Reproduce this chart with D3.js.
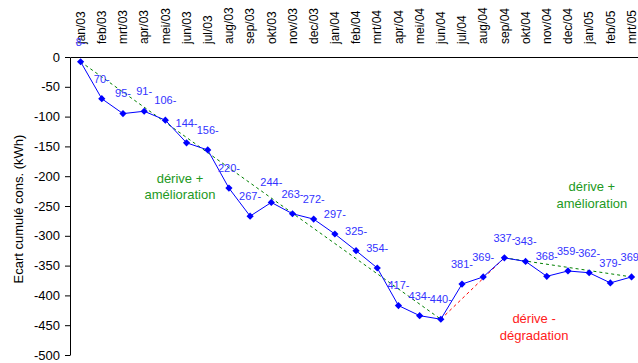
<!DOCTYPE html>
<html>
<head>
<meta charset="utf-8">
<script src="https://cdn.jsdelivr.net/npm/d3@7"></script>
<style>
  html, body { margin: 0; padding: 0; background: #fff; }
  svg { display: block; font-family: "Liberation Sans", Arial, sans-serif; }
</style>
</head>
<body>
<svg id="chart" width="638" height="363"></svg>
<script>
// Maanden (categorieën)
const months = ["jan/03","feb/03","mrt/03","apr/03","mei/03","jun/03","jul/03","aug/03","sep/03","okt/03","nov/03","dec/03",
                "jan/04","feb/04","mrt/04","apr/04","mei/04","jun/04","jul/04","aug/04","sep/04","okt/04","nov/04","dec/04",
                "jan/05","feb/05","mrt/05"];
// Ecart cumulé (kWh)
const cumul = [-8,-70,-95,-91,-106,-144,-156,-220,-267,-244,-263,-272,
               -297,-325,-354,-417,-434,-440,-381,-369,-337,-343,-368,-359,
               -362,-379,-369];
// Y-as tickwaarden
const yTicks = [0,-50,-100,-150,-200,-250,-300,-350,-400,-450,-500];
// Trendsegmenten (begin- en eindmaand)
const trendFrom = ["jan/03","jun/04","sep/04"];
const trendTo   = ["jun/04","sep/04","mrt/05"];
const trendKind = ["amelioration","degradation","amelioration"];
// Annotaties: tekstregels, positie als (fractionele) maandindex en waarde van de eerste regel
const noteLines = [["dérive +","amélioration"],["dérive -","dégradation"],["dérive +","amélioration"]];
const noteIndex = [4.69, 21.4, 24.13];
const noteValue = [-203, -439.5, -217.5];
const noteKind  = ["amelioration","degradation","amelioration"];

const svg = d3.select("#chart");
const plotLeft = 70, plotTop = 57, plotBottom = 355, step = 21.19;

const x = d3.scaleBand().domain(months).range([plotLeft, plotLeft + months.length * step]).padding(0);
const cx = m => x(m) + x.bandwidth() / 2;
const xAt = i => cx(months[0]) + i * x.step();
const y = d3.scaleLinear().domain([-500, 0]).range([plotBottom, plotTop]);

const lineColor = { amelioration: "#008000", degradation: "#ff0000" };
const textColor = { amelioration: "#229922", degradation: "#ff2020" };

// Y-as
const yAxis = svg.append("g")
  .attr("transform", `translate(${plotLeft},0)`)
  .call(d3.axisLeft(y).tickValues(yTicks).tickSize(5).tickPadding(5).tickSizeOuter(0).tickFormat(d => String(d)));
yAxis.selectAll("text").attr("font-size", 13).attr("fill", "#000").attr("font-family", "Liberation Sans, Arial, sans-serif");
yAxis.selectAll("line,path").attr("stroke", "#000");

// Categorie-as bovenaan (op 0)
const xAxis = svg.append("g")
  .attr("transform", `translate(0,${y(0)})`)
  .call(d3.axisTop(x).tickSize(0).tickSizeOuter(0).tickPadding(0));
xAxis.select("path").attr("stroke", "#000");
xAxis.selectAll("text")
  .attr("font-size", 12).attr("fill", "#000").attr("font-family", "Liberation Sans, Arial, sans-serif")
  .attr("text-anchor", "start")
  .attr("transform", "rotate(-90)")
  .attr("x", 13).attr("y", 0).attr("dy", "0.35em");

// As-titel
svg.append("text")
  .attr("transform", `translate(18,${(plotTop + plotBottom) / 2 + 3}) rotate(-90)`)
  .attr("text-anchor", "middle").attr("dy", "0.35em")
  .attr("font-size", 13).attr("fill", "#000")
  .text("Ecart cumulé cons. (kWh)");

// Trendlijnen
const idx = m => months.indexOf(m);
trendFrom.forEach((f, i) => {
  svg.append("line")
    .attr("x1", cx(f)).attr("y1", y(cumul[idx(f)]))
    .attr("x2", cx(trendTo[i])).attr("y2", y(cumul[idx(trendTo[i])]))
    .attr("stroke", lineColor[trendKind[i]]).attr("stroke-width", 1)
    .attr("stroke-dasharray", "3,3");
});

// Reekslijn
svg.append("path")
  .datum(cumul)
  .attr("fill", "none").attr("stroke", "#0000ff").attr("stroke-width", 1)
  .attr("d", d3.line().x((d, i) => cx(months[i])).y(d => y(d)));

// Markeringen (ruiten)
svg.append("g").selectAll("path")
  .data(cumul).join("path")
  .attr("d", d3.symbol(d3.symbolSquare, 26))
  .attr("transform", (d, i) => `translate(${cx(months[i])},${y(d)}) rotate(45)`)
  .attr("fill", "#0000ff");

// Gegevenslabels
svg.append("g").selectAll("text")
  .data(cumul).join("text")
  .attr("x", (d, i) => cx(months[i]))
  .attr("y", d => y(d) - 20)
  .attr("dy", "0.35em")
  .attr("text-anchor", "middle")
  .attr("font-size", 11).attr("fill", "#3333ff")
  .text(d => Math.abs(d) + "-");

// Annotaties
noteLines.forEach((lines, i) => {
  const t = svg.append("text")
    .attr("text-anchor", "middle")
    .attr("font-size", 13).attr("fill", textColor[noteKind[i]]);
  lines.forEach((s, j) => {
    t.append("tspan").attr("x", xAt(noteIndex[i])).attr("y", y(noteValue[i]) + j * 16.5).attr("dy", "0.35em").text(s);
  });
});
</script>
</body>
</html>
